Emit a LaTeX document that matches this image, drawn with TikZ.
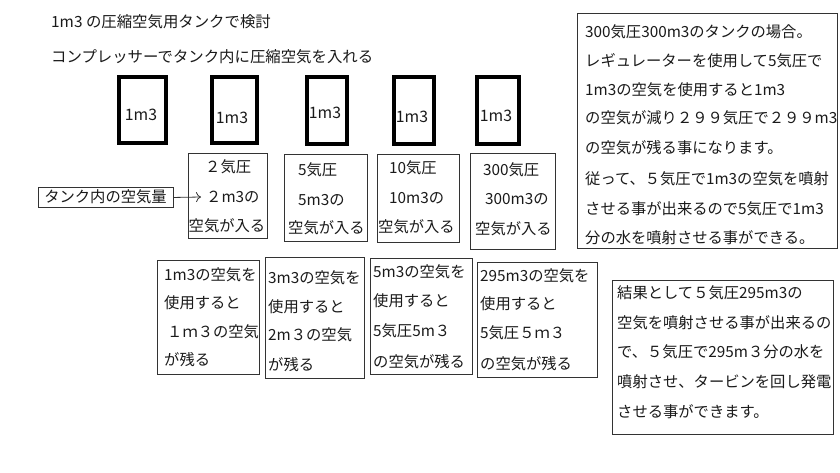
\documentclass[tikz,border=0pt]{standalone}
\usepackage{fontspec}
\setmainfont{Noto Sans CJK JP}
\usetikzlibrary{arrows.meta}
\definecolor{txt}{HTML}{1A1A1A}
\definecolor{bd}{HTML}{333333}
\begin{document}
\begin{tikzpicture}[x=1pt,y=-1pt,
  every node/.style={inner sep=0pt, text=txt, font=\fontsize{15.3}{18}\selectfont},
  box/.style={draw=bd, line width=0.9pt, anchor=north west},
  tank/.style={draw=black, line width=3.6pt, anchor=north west},
  ln/.style={anchor=west},
  tanktext/.style={font=\fontsize{15.8}{18}\selectfont}]
\useasboundingbox[fill=white] (0,0) rectangle (840,472);

% titles
\node[ln, font=\fontsize{15.4}{18}\selectfont] (title1) at (51,22) {1m3 の圧縮空気用タンクで検討};
\node[ln, font=\fontsize{15.4}{18}\selectfont] (title2) at (51,57) {コンプレッサーでタンク内に圧縮空気を入れる};

% tanks
\node[tank, minimum width=47pt, minimum height=66pt] (t1) at (117,75) {};
\node[tank, minimum width=45pt, minimum height=66pt] (t2) at (210,75) {};
\node[tank, minimum width=40pt, minimum height=67pt] (t3) at (305,75) {};
\node[tank, minimum width=40pt, minimum height=67pt] (t4) at (392,75) {};
\node[tank, minimum width=42pt, minimum height=67pt] (t5) at (475,75) {};
\draw[line width=2pt] ([yshift=0.2pt]t1.south west) -- ([yshift=0.2pt]t1.south east);
\draw[line width=2pt] ([yshift=0.2pt]t5.south west) -- ([yshift=0.2pt]t5.south east);
\node[tanktext] (t1l) at (141,115) {1m3};
\node[tanktext] (t2l) at (232,118) {1m3};
\node[tanktext] (t3l) at (325,113) {1m3};
\node[tanktext] (t4l) at (412,117) {1m3};
\node[tanktext] (t5l) at (496,116) {1m3};

% label and arrow
\node[box, minimum width=135pt, minimum height=20pt] (lbl) at (38,187) {};
\node (lblt) at (105.5,197) {タンク内の空気量};
\coordinate (arrend) at (201,197);
\draw[line width=0.8pt, draw=bd, -{To[length=5pt,width=10pt]}] (lbl.east) -- (arrend);

% top boxes
\node[box, minimum width=79pt, minimum height=85pt] (b1) at (188,153) {};
\node[box, minimum width=83pt, minimum height=87pt] (b2) at (284,154) {};
\node[box, minimum width=82pt, minimum height=88pt] (b3) at (377,154) {};
\node[box, minimum width=85pt, minimum height=96pt] (b4) at (470,153) {};
\foreach \x/\y/\t [count=\i] in {205/167/２気圧, 206/197/２m3の, 188.5/226/空気が入る}
  \node[ln] (b1-\i) at (\x,\y) {\t};
\foreach \x/\y/\t [count=\i] in {298/170/5気圧, 298/200/5m3の, 288/228/空気が入る}
  \node[ln] (b2-\i) at (\x,\y) {\t};
\foreach \x/\y/\t [count=\i] in {389/168/10気圧, 389/198/10m3の, 378/227/空気が入る}
  \node[ln] (b3-\i) at (\x,\y) {\t};
\foreach \x/\y/\t [count=\i] in {483/170/300気圧, 485/199/300m3の, 475/229/空気が入る}
  \node[ln] (b4-\i) at (\x,\y) {\t};

% right big box
\node[box, minimum width=260pt, minimum height=235pt] (rb) at (577,13) {};
\foreach \y/\t [count=\i] in {
  32/300気圧300m3のタンクの場合。,
  61/レギュレーターを使用して5気圧で,
  90/1m3の空気を使用すると1m3,
  118/の空気が減り２９９気圧で２９９m3,
  148/の空気が残る事になります。,
  179/従って、５気圧で1m3の空気を噴射,
  209/させる事が出来るので5気圧で1m3,
  238/分の水を噴射させる事ができる。}
  \node[ln] (rb-\i) at (585,\y) {\t};

% bottom boxes
\node[box, minimum width=102pt, minimum height=114pt] (c1) at (157,260) {};
\node[box, minimum width=99pt, minimum height=121pt] (c2) at (265,257) {};
\node[box, minimum width=102pt, minimum height=116pt] (c3) at (370,258) {};
\node[box, minimum width=120pt, minimum height=115pt] (c4) at (477,262) {};
\foreach \x/\y/\t [count=\i] in {164/275/1m3の空気を, 164/303/使用すると, 167/332/１ｍ３の空気, 164/360/が残る}
  \node[ln] (c1-\i) at (\x,\y) {\t};
\foreach \x/\y/\t [count=\i] in {268/278/3m3の空気を, 268/307/使用すると, 268/335/2m３の空気, 268/365/が残る}
  \node[ln] (c2-\i) at (\x,\y) {\t};
\foreach \x/\y/\t [count=\i] in {373/272/5m3の空気を, 373/301/使用すると, 373/331/5気圧5m３, 373/362/の空気が残る}
  \node[ln] (c3-\i) at (\x,\y) {\t};
\foreach \x/\y/\t [count=\i] in {480/276/295m3の空気を, 480/304/使用すると, 480/333/5気圧５ｍ３, 480/364/の空気が残る}
  \node[ln] (c4-\i) at (\x,\y) {\t};

% bottom-right box
\node[box, minimum width=221pt, minimum height=154pt] (rr) at (612,280) {};
\foreach \y/\t [count=\i] in {
  293/結果として５気圧295m3の,
  323/空気を噴射させる事が出来るの,
  352/で、５気圧で295m３分の水を,
  382/噴射させ、タービンを回し発電,
  412/させる事ができます。}
  \node[ln] (rr-\i) at (617,\y) {\t};
\end{tikzpicture}
\end{document}
